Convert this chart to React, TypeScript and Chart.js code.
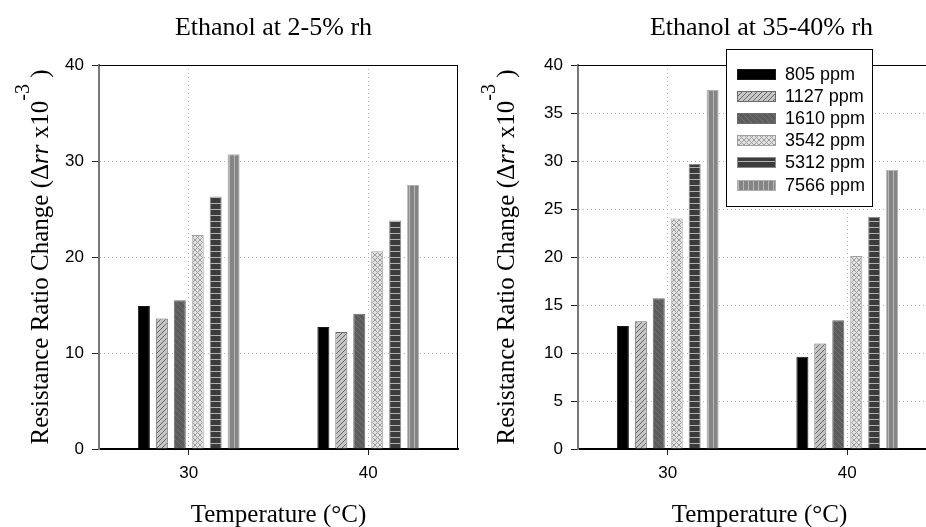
import React, { useEffect, useRef } from 'react';
import { Chart, registerables } from 'chart.js';

Chart.register(...registerables);

// ---------- data ----------
const categories = ['30', '40'];
const seriesLabels = ['805 ppm', '1127 ppm', '1610 ppm', '3542 ppm', '5312 ppm', '7566 ppm'];

// Ethanol at 2-5% rh
const lowRh805 = [14.9, 12.7];
const lowRh1127 = [13.6, 12.2];
const lowRh1610 = [15.5, 14.1];
const lowRh3542 = [22.3, 20.6];
const lowRh5312 = [26.3, 23.8];
const lowRh7566 = [30.7, 27.5];

// Ethanol at 35-40% rh
const highRh805 = [12.8, 9.6];
const highRh1127 = [13.3, 11.0];
const highRh1610 = [15.7, 13.4];
const highRh3542 = [24.0, 20.1];
const highRh5312 = [29.7, 24.2];
const highRh7566 = [37.4, 29.1];

const lowRhTicks = [0, 10, 20, 30, 40];
const highRhTicks = [0, 5, 10, 15, 20, 25, 30, 35, 40];

const lowRhTitle = 'Ethanol at 2-5% rh';
const highRhTitle = 'Ethanol at 35-40% rh';
const xTitle = 'Temperature (°C)';

const lowRhSeries = [lowRh805, lowRh1127, lowRh1610, lowRh3542, lowRh5312, lowRh7566];
const highRhSeries = [highRh805, highRh1127, highRh1610, highRh3542, highRh5312, highRh7566];

// ---------- styles ----------
const SERIF = '"Liberation Serif", "Times New Roman", serif';
const SANS = '"Liberation Sans", Arial, sans-serif';
const borderColors = ['#1a1a1a', '#6a6a6a', '#6a6a6a', '#a0a0a0', '#8a8a8a', '#b0b0b0'];

function tile(ctx: CanvasRenderingContext2D, w: number, h: number, draw: (g: CanvasRenderingContext2D) => void) {
  const c = document.createElement('canvas');
  c.width = w;
  c.height = h;
  const g = c.getContext('2d') as CanvasRenderingContext2D;
  draw(g);
  return ctx.createPattern(c, 'repeat') as CanvasPattern;
}

function makeFills(ctx: CanvasRenderingContext2D): (string | CanvasPattern)[] {
  const diagUp = tile(ctx, 5, 5, (g) => {
    g.fillStyle = '#c6c6c6';
    g.fillRect(0, 0, 5, 5);
    g.strokeStyle = '#666';
    g.lineWidth = 1;
    g.beginPath();
    g.moveTo(-1, 6); g.lineTo(6, -1);
    g.moveTo(-1, 1); g.lineTo(1, -1);
    g.moveTo(4, 6); g.lineTo(6, 4);
    g.stroke();
  });
  const diagDown = tile(ctx, 6, 6, (g) => {
    g.fillStyle = '#5c5c5c';
    g.fillRect(0, 0, 6, 6);
    g.strokeStyle = '#727272';
    g.lineWidth = 1;
    g.beginPath();
    g.moveTo(-1, -1); g.lineTo(7, 7);
    g.moveTo(5, -1); g.lineTo(7, 1);
    g.moveTo(-1, 5); g.lineTo(1, 7);
    g.stroke();
  });
  const cross = tile(ctx, 5, 5, (g) => {
    g.fillStyle = '#e2e2e2';
    g.fillRect(0, 0, 5, 5);
    g.strokeStyle = '#9c9c9c';
    g.lineWidth = 1;
    g.beginPath();
    g.moveTo(0, 0); g.lineTo(5, 5);
    g.moveTo(5, 0); g.lineTo(0, 5);
    g.stroke();
  });
  const horiz = tile(ctx, 6, 6, (g) => {
    g.fillStyle = '#3c3c3c';
    g.fillRect(0, 0, 6, 6);
    g.fillStyle = '#b2b2b2';
    g.fillRect(0, 5, 6, 1);
  });
  const vert = tile(ctx, 5, 5, (g) => {
    g.fillStyle = '#848484';
    g.fillRect(0, 0, 5, 5);
    g.fillStyle = '#b8b8b8';
    g.fillRect(4, 0, 1, 5);
  });
  return ['#000000', diagUp, diagDown, cross, horiz, vert];
}

// ---------- plugins ----------
const framePlugin = {
  id: 'frame',
  afterDatasetsDraw(chart: any) {
    const { ctx, chartArea: a } = chart;
    ctx.save();
    ctx.strokeStyle = '#000';
    ctx.lineWidth = 1;
    ctx.beginPath();
    ctx.moveTo(a.left, a.top + 0.5);
    ctx.lineTo(a.right, a.top + 0.5);
    ctx.moveTo(a.right - 0.5, a.top);
    ctx.lineTo(a.right - 0.5, a.bottom);
    ctx.stroke();
    ctx.restore();
  },
};

const textPlugin = {
  id: 'panelText',
  afterDraw(chart: any, _args: any, opts: any) {
    const { ctx, chartArea: a } = chart;
    const cx = (a.left + a.right) / 2;
    ctx.save();
    ctx.fillStyle = '#000';
    ctx.textBaseline = 'alphabetic';
    ctx.textAlign = 'center';
    ctx.font = `26px ${SERIF}`;
    ctx.fillText(opts.title, cx + opts.titleDx, 35);
    ctx.font = `25px ${SERIF}`;
    ctx.fillText(xTitle, cx + opts.xTitleDx, 521.5);

    // rotated y title with italic and superscript runs
    const runs = [
      { t: 'Resistance Ratio Change (Δ', f: `25px ${SERIF}`, dy: 0 },
      { t: 'rr', f: `italic 25px ${SERIF}`, dy: 0 },
      { t: ' x10', f: `25px ${SERIF}`, dy: 0 },
      { t: '-3', f: `20px ${SERIF}`, dy: -19 },
      { t: ' )', f: `25px ${SERIF}`, dy: 0 },
    ];
    ctx.textAlign = 'left';
    let total = 0;
    const widths = runs.map((r) => {
      ctx.font = r.f;
      const w = ctx.measureText(r.t).width;
      total += w;
      return w;
    });
    ctx.translate(opts.yTitleX, (a.top + a.bottom) / 2);
    ctx.rotate(-Math.PI / 2);
    let x = -total / 2;
    runs.forEach((r, i) => {
      ctx.font = r.f;
      ctx.fillText(r.t, x, r.dy);
      x += widths[i];
    });
    ctx.restore();
  },
};

const boxLegendPlugin = {
  id: 'boxLegend',
  afterDraw(chart: any, _args: any, opts: any) {
    if (!opts || !opts.show) return;
    const { ctx, chartArea: a } = chart;
    const x = a.left + 148;
    const y = 49;
    const w = 146;
    const h = 157;
    ctx.save();
    ctx.fillStyle = '#fff';
    ctx.fillRect(x, y, w, h);
    ctx.strokeStyle = '#000';
    ctx.lineWidth = 1;
    ctx.strokeRect(x + 0.5, y + 0.5, w, h);
    chart.data.datasets.forEach((ds: any, i: number) => {
      const cy = Math.round(y + 24.5 + i * 22.2);
      ctx.fillStyle = ds.backgroundColor;
      ctx.fillRect(x + 11, cy - 5, 39, 11);
      ctx.strokeStyle = ds.borderColor;
      ctx.strokeRect(x + 11.5, cy - 4.5, 38, 10);
      ctx.fillStyle = '#000';
      ctx.font = `18px ${SANS}`;
      ctx.textBaseline = 'middle';
      ctx.textAlign = 'left';
      ctx.fillText(ds.label, x + 59, cy + 1);
    });
    ctx.restore();
  },
};

function buildChart(
  canvas: HTMLCanvasElement,
  series: number[][],
  ticks: number[],
  panel: { title: string; titleDx: number; xTitleDx: number; yTitleX: number; legend: boolean }
) {
  const ctx = canvas.getContext('2d') as CanvasRenderingContext2D;
  const fills = makeFills(ctx);
  const gridColor = '#b4b4b4';
  return new Chart(ctx, {
    type: 'bar',
    data: {
      labels: categories,
      datasets: series.map((vals, i) => ({
        label: seriesLabels[i],
        data: vals,
        backgroundColor: fills[i] as any,
        borderColor: borderColors[i],
        borderWidth: 1,
        categoryPercentage: 0.6,
        barPercentage: 0.67,
      })),
    },
    options: {
      animation: false,
      responsive: false,
      devicePixelRatio: 1,
      layout: { padding: { top: 65, right: 12, bottom: 0, left: 0 } },
      events: [],
      scales: {
        x: {
          type: 'category',
          offset: true,
          grid: {
            offset: false,
            color: gridColor,
            lineWidth: 1,
            drawTicks: true,
            tickLength: 6,
            tickColor: '#222',
            tickWidth: 1,
          },
          border: { color: '#000', width: 2, dash: [1, 3] },
          ticks: { color: '#000', font: { family: SANS, size: 17 }, padding: 8 },
          afterFit: (s: any) => {
            s.height = 78;
          },
        },
        y: {
          min: ticks[0],
          max: ticks[ticks.length - 1],
          afterBuildTicks: (s: any) => {
            s.ticks = ticks.map((v) => ({ value: v }));
          },
          grid: {
            color: gridColor,
            lineWidth: 1,
            drawTicks: true,
            tickLength: 7,
            tickColor: '#222',
            tickWidth: 1,
          },
          border: { color: '#777', width: 2, dash: [1, 3] },
          ticks: { color: '#000', font: { family: SANS, size: 17 }, padding: 8 },
          afterFit: (s: any) => {
            s.width = 99;
          },
        },
      },
      plugins: {
        legend: { display: false },
        title: { display: false },
        tooltip: { enabled: false },
        panelText: {
          title: panel.title,
          titleDx: panel.titleDx,
          xTitleDx: panel.xTitleDx,
          yTitleX: panel.yTitleX,
        },
        boxLegend: { show: panel.legend },
      } as any,
    },
    plugins: [framePlugin, textPlugin, boxLegendPlugin],
  });
}

export default function App() {
  const leftRef = useRef<HTMLCanvasElement>(null);
  const rightRef = useRef<HTMLCanvasElement>(null);

  useEffect(() => {
    const left = buildChart(leftRef.current as HTMLCanvasElement, lowRhSeries, lowRhTicks, {
      title: lowRhTitle,
      titleDx: -5,
      xTitleDx: 0,
      yTitleX: 48,
      legend: false,
    });
    const right = buildChart(rightRef.current as HTMLCanvasElement, highRhSeries, highRhTicks, {
      title: highRhTitle,
      titleDx: 4,
      xTitleDx: 2,
      yTitleX: 35,
      legend: true,
    });
    return () => {
      left.destroy();
      right.destroy();
    };
  }, []);

  return (
    <div
      style={{
        position: 'fixed',
        left: 0,
        top: 0,
        width: 926,
        height: 527,
        overflow: 'hidden',
        background: '#fff',
      }}
    >
      <canvas ref={leftRef} width={470} height={527} style={{ position: 'absolute', left: 0, top: 0 }} />
      <canvas ref={rightRef} width={470} height={527} style={{ position: 'absolute', left: 479, top: 0 }} />
    </div>
  );
}
